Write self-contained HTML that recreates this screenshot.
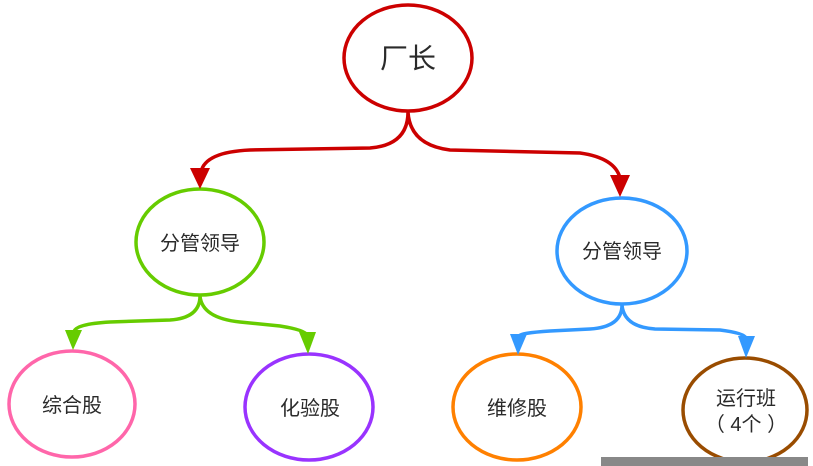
<!DOCTYPE html>
<html><head><meta charset="utf-8"><style>
html,body{margin:0;padding:0;background:#fff;width:813px;height:466px;overflow:hidden}
text{font-family:"Liberation Sans","Noto Sans CJK SC",sans-serif;fill:#2a2a2a}
</style></head><body>
<svg width="813" height="466" viewBox="0 0 813 466" xmlns="http://www.w3.org/2000/svg">
<g fill="none" stroke-width="3.5">
<ellipse cx="408" cy="58" rx="64" ry="53" stroke="#cc0000"/>
<ellipse cx="200" cy="242" rx="64" ry="53" stroke="#66cc00"/>
<ellipse cx="622" cy="251" rx="65" ry="53" stroke="#3399ff"/>
<ellipse cx="72" cy="404" rx="63" ry="53" stroke="#ff66aa"/>
<ellipse cx="309" cy="407" rx="64" ry="53" stroke="#9933ff"/>
<ellipse cx="517" cy="407" rx="64" ry="53" stroke="#ff8000"/>
<ellipse cx="745" cy="410" rx="62" ry="52" stroke="#994c00"/>
<path d="M408 112 Q408 145 370 148 L250 150 Q205 152 201 172 M408 112 Q410 145 450 150 L580 153 Q615 158 620 178" stroke="#cc0000"/>
<path d="M200 296 Q200 318 170 320 L110 322 Q75 324 74 332 M200 296 Q202 318 240 322 L280 326 Q305 330 307 335" stroke="#66cc00"/>
<path d="M622 305 Q622 327 590 329 L550 331 Q520 333 519 336 M622 305 Q624 327 655 329 L720 330 Q744 333 746 338" stroke="#3399ff"/>
</g>
<polygon points="190,168 210,168 200,189" fill="#cc0000"/>
<polygon points="610,175 630,175 620,197" fill="#cc0000"/>
<polygon points="65,330 82,330 73,350" fill="#66cc00"/>
<polygon points="299,332 316,332 308,354" fill="#66cc00"/>
<polygon points="510,334 527,334 518,355" fill="#3399ff"/>
<polygon points="738,336 755,336 746,358" fill="#3399ff"/>
<g font-size="20" text-anchor="middle">
<text x="408" y="68" font-size="28">厂长</text>
<text x="200" y="250">分管领导</text>
<text x="622" y="258">分管领导</text>
<text x="72" y="412">综合股</text>
<text x="310" y="415">化验股</text>
<text x="517" y="415">维修股</text>
<text x="746" y="405">运行班</text>
<text x="746" y="431">（ 4个 ）</text>
</g>
<rect x="601" y="457" width="207" height="9" fill="#888"/>
</svg>
</body></html>
